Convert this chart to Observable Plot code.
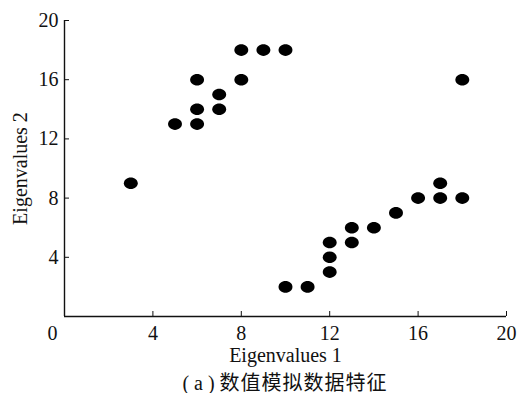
<!DOCTYPE html>
<html>
<head>
<meta charset="utf-8">
<script src="https://cdn.jsdelivr.net/npm/d3@7"></script>
<script src="https://cdn.jsdelivr.net/npm/@observablehq/plot@0.6"></script>
<style>
  body { margin: 0; background: #fff; }
  #chart svg { display: block; }
  #caption {
    box-sizing: border-box;
    width: 518px;
    padding-left: 64px;
    padding-right: 12px;
    text-align: center;
    font-size: 20px;
    line-height: 20px;
    color: #111;
  }
  #caption .lat { font-family: "Liberation Serif", "Times New Roman", serif; }
  #caption .cjk { font-family: "Noto Sans CJK SC", sans-serif; letter-spacing: 1px; font-weight: 400; }
</style>
</head>
<body>
<div id="chart"></div>
<div id="caption"><span class="lat">( a ) </span><span class="cjk">数值模拟数据特征</span></div>
<script>
const xValues = [3, 5, 6, 6, 6, 7, 7, 8, 8, 9, 10, 10, 11, 12, 12, 12, 13, 13, 14, 15, 16, 17, 17, 18, 18];
const yValues = [9, 13, 13, 14, 16, 14, 15, 16, 18, 18, 18, 2, 2, 3, 4, 5, 5, 6, 6, 7, 8, 8, 9, 8, 16];
const xTicks = [4, 8, 12, 16, 20];
const yTicks = [4, 8, 12, 16, 20];
const xLabel = "Eigenvalues 1";
const yLabel = "Eigenvalues 2";
const originLabel = ["0"];

const points = xValues.map((x, i) => ({x, y: yValues[i]}));

const ellipse = {
  draw(context, size) {
    const r = Math.sqrt(size / Math.PI);
    const rx = r * 1.2, ry = r, k = 0.5523;
    context.moveTo(rx, 0);
    context.bezierCurveTo(rx, ry * k, rx * k, ry, 0, ry);
    context.bezierCurveTo(-rx * k, ry, -rx, ry * k, -rx, 0);
    context.bezierCurveTo(-rx, -ry * k, -rx * k, -ry, 0, -ry);
    context.bezierCurveTo(rx * k, -ry, rx, -ry * k, rx, 0);
    context.closePath();
  }
};

const serif = "'Liberation Serif', 'Times New Roman', serif";

const chart = Plot.plot({
  width: 518,
  height: 372,
  marginLeft: 64,
  marginRight: 12,
  marginTop: 20,
  marginBottom: 56,
  style: {fontFamily: serif, fontSize: "20px", color: "#111", background: "#fff"},
  x: {domain: [0, 20]},
  y: {domain: [0, 20]},
  marks: [
    Plot.axisX({ticks: xTicks, tickSize: -5, tickPadding: 14, label: xLabel, labelAnchor: "center", labelArrow: "none", labelOffset: 45, fontSize: 20}),
    Plot.axisY({ticks: yTicks, tickSize: -5, tickPadding: 11, label: yLabel, labelAnchor: "center", labelArrow: "none", labelOffset: 52, fontSize: 20}),
    Plot.text(originLabel, {x: 0, y: 0, text: d => d, dx: -12, dy: 9, lineAnchor: "top", fontSize: 20}),
    Plot.ruleX([0], {stroke: "#111", strokeWidth: 1.4}),
    Plot.ruleY([0], {stroke: "#111", strokeWidth: 1.4}),
    Plot.dot(points, {x: "x", y: "y", r: 5.8, symbol: ellipse, fill: "#000", stroke: "none"})
  ]
});
document.getElementById("chart").appendChild(chart);
</script>
</body>
</html>
